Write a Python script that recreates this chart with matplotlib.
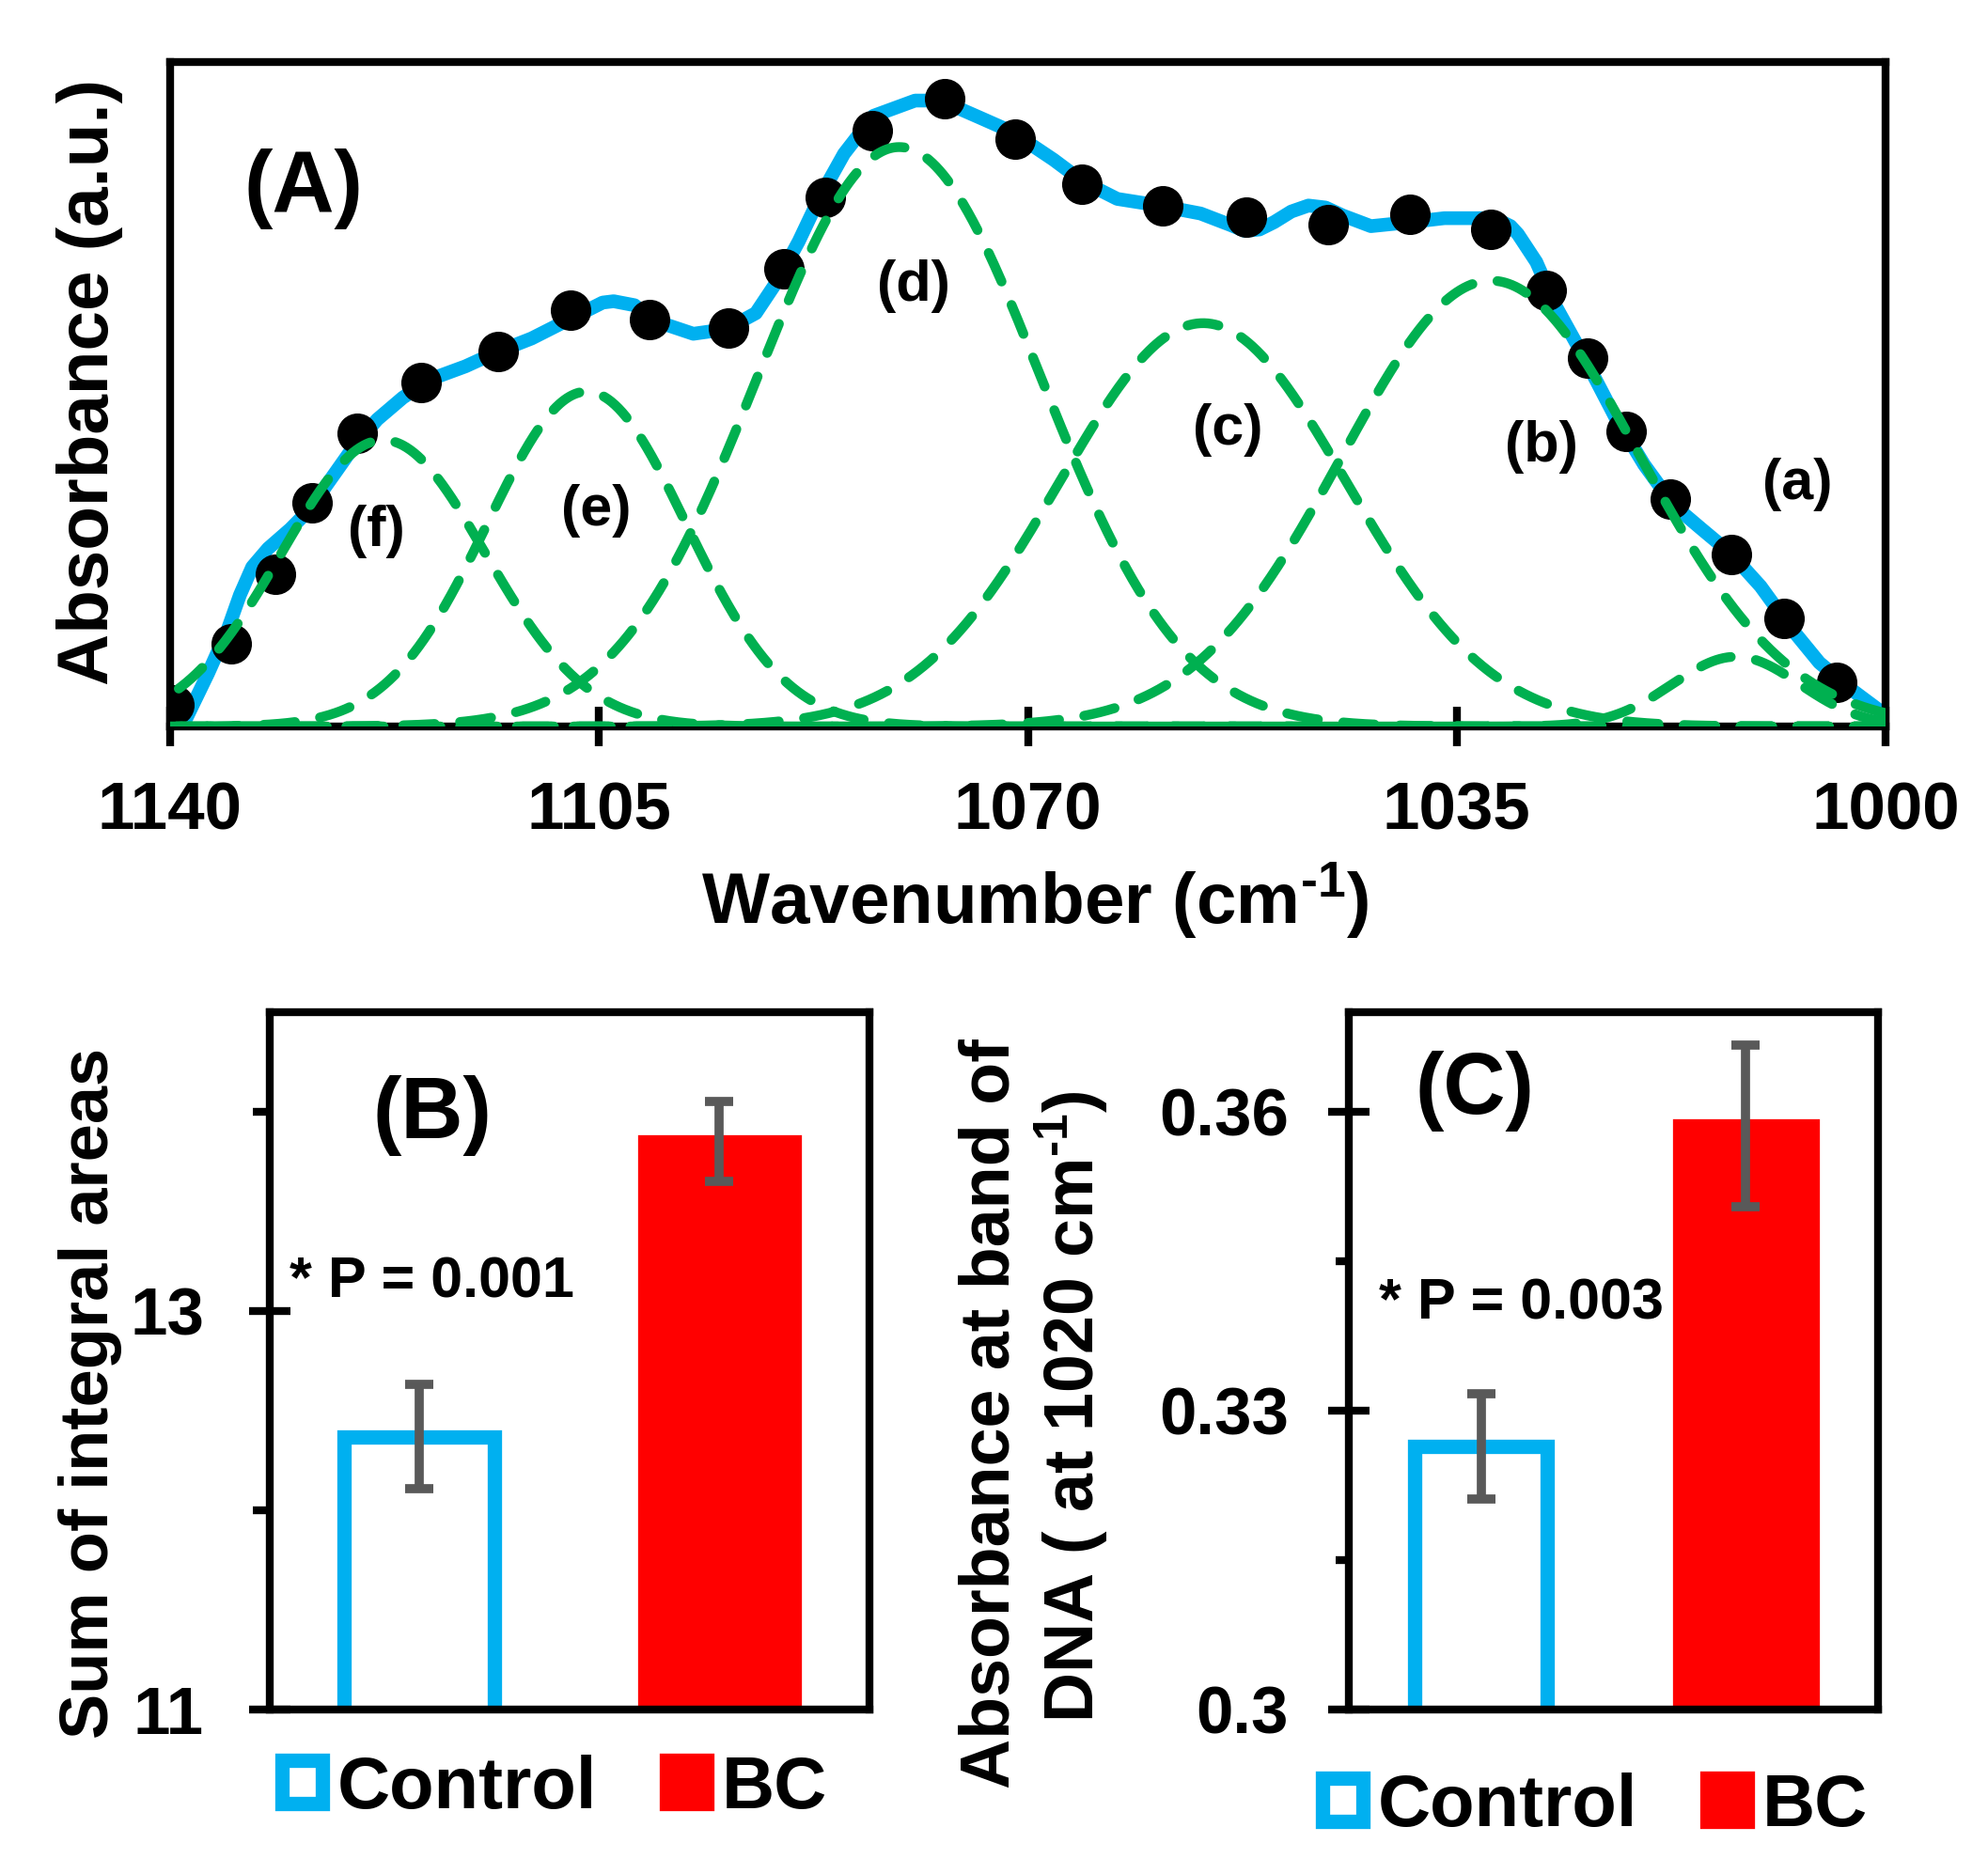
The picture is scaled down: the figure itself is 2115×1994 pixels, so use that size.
import numpy as np
import matplotlib
matplotlib.use("Agg")
import matplotlib.pyplot as plt
from matplotlib.ticker import FixedLocator

plt.rcParams['font.family'] = ['Liberation Sans', 'DejaVu Sans']
plt.rcParams['font.weight'] = 'bold'
plt.rcParams['mathtext.fontset'] = 'custom'
plt.rcParams['mathtext.rm'] = 'Liberation Sans:bold'
plt.rcParams['mathtext.it'] = 'Liberation Sans:bold'
plt.rcParams['mathtext.bf'] = 'Liberation Sans:bold'
plt.rcParams['mathtext.default'] = 'rm'

# ---------------- Panel A data ----------------
dot_wn = [1139.7, 1135.0, 1131.4, 1128.4, 1124.7, 1119.5, 1113.2, 1107.3, 1100.9, 1094.4,
          1089.9, 1086.5, 1082.7, 1076.8, 1071.0, 1065.6, 1059.0, 1052.2, 1045.5, 1038.8,
          1032.2, 1027.7, 1024.3, 1021.2, 1017.6, 1012.6, 1008.3, 1004.0]
dot_abs = [0.033, 0.125, 0.229, 0.336, 0.442, 0.518, 0.564, 0.626, 0.613, 0.600,
           0.689, 0.796, 0.897, 0.945, 0.884, 0.816, 0.784, 0.767, 0.755, 0.771,
           0.748, 0.657, 0.554, 0.444, 0.342, 0.259, 0.162, 0.067]

fit_wn = [1139.0, 1136.9, 1135.3, 1134.3, 1133.3, 1132.0, 1130.2, 1128.7, 1126.9, 1125.1,
          1123.1, 1121.0, 1118.7, 1115.9, 1113.4, 1110.5, 1107.5, 1104.7, 1103.8, 1102.1,
          1100.7, 1097.3, 1094.6, 1092.2, 1090.5, 1088.7, 1087.0, 1085.0, 1082.6, 1079.2,
          1077.1, 1074.0, 1071.3, 1067.9, 1065.5, 1062.7, 1059.6, 1055.9, 1053.5, 1052.3,
          1051.1, 1049.9, 1048.5, 1047.1, 1045.7, 1044.3, 1042.0, 1038.8, 1036.0, 1032.4,
          1031.6, 1030.6, 1030.0, 1028.5, 1026.9, 1024.5, 1022.1, 1019.7, 1017.3, 1015.0,
          1012.6, 1010.2, 1007.8, 1005.4, 1002.6, 1000.2]
fit_abs = [0.000, 0.080, 0.146, 0.198, 0.240, 0.268, 0.297, 0.325, 0.372, 0.419,
           0.462, 0.495, 0.523, 0.542, 0.563, 0.584, 0.612, 0.638, 0.640, 0.634,
           0.612, 0.591, 0.598, 0.622, 0.669, 0.730, 0.796, 0.862, 0.919, 0.942,
           0.942, 0.917, 0.895, 0.853, 0.820, 0.794, 0.785, 0.772, 0.755, 0.746,
           0.748, 0.759, 0.775, 0.784, 0.781, 0.769, 0.753, 0.759, 0.765, 0.765,
           0.762, 0.753, 0.741, 0.699, 0.632, 0.552, 0.467, 0.394, 0.333, 0.297,
           0.260, 0.211, 0.150, 0.096, 0.053, 0.020]

band_names = ['(a)', '(b)', '(c)', '(d)', '(e)', '(f)']
band_center = [1012.2, 1032.2, 1055.7, 1080.5, 1106.0, 1122.6]
band_height = [0.105, 0.671, 0.607, 0.872, 0.504, 0.431]
band_sigma = [5.2, 12.16, 11.7, 11.5, 8.1, 8.3]
band_label_wn = [1007.2, 1028.1, 1053.7, 1079.3, 1105.2, 1123.2]
band_label_abs = [0.364, 0.421, 0.446, 0.662, 0.325, 0.294]
wn_ticks = [1140, 1105, 1070, 1035, 1000]

# ---------------- Panel B / C data ----------------
groups = ['Control', 'BC']
area_mean = [12.37, 13.85]
area_err = [0.26, 0.20]
dna_mean = [0.3264, 0.3586]
dna_err = [0.0053, 0.0081]
p_area = '* P = 0.001'
p_dna = '* P = 0.003'

BLUE = '#00B0F0'
GREEN = '#00B050'
RED = '#FF0000'
GREY = '#595959'

W, H = 2115, 1994
fig = plt.figure(figsize=(W / 100, H / 100), dpi=100)


def px_axes(l, t, r, b):
    return fig.add_axes([l / W, 1 - b / H, (r - l) / W, (b - t) / H])


axA = px_axes(181, 66, 2006, 773)
axB = px_axes(286.5, 1077, 925, 1819)
axC = px_axes(1435, 1077, 1998, 1819)

for ax in (axA, axB, axC):
    for sp in ax.spines.values():
        sp.set_linewidth(6)
        sp.set_color('black')

# ---------------- Panel A ----------------
axA.plot(fit_wn, fit_abs, color=BLUE, lw=10.5, solid_capstyle='round',
         solid_joinstyle='round', zorder=2)
axA.plot(dot_wn, dot_abs, 'o', color='black', ms=30, zorder=3)
grid = np.linspace(1000, 1140, 1401)
for c, h, s in zip(band_center, band_height, band_sigma):
    axA.plot(grid, h * np.exp(-0.5 * ((grid - c) / s) ** 2), color=GREEN,
             lw=7.5, ls=(0, (3.2, 2.6)), dash_capstyle='round', zorder=4)
for name, x, y in zip(band_names, band_label_wn, band_label_abs):
    axA.text(x, y, name, ha='center', va='center', fontsize=44, zorder=5)
axA.text(1129.1, 0.809, '(A)', ha='center', va='center', fontsize=66)
axA.set_xlim(1140, 1000)
axA.set_ylim(0, 1)
axA.xaxis.set_major_locator(FixedLocator(wn_ticks))
axA.set_yticks([])
axA.tick_params(axis='x', direction='inout', length=30, width=6,
                labelsize=51, pad=27)
fig.text(115 / W, 1 - 406.6 / H, 'Absorbance (a.u.)', rotation=90,
         rotation_mode='anchor', ha='center', va='baseline', fontsize=55)
fig.text(1101 / W, 1 - 983.3 / H, r'Wavenumber (cm$^{\text{-1}}$)', ha='center',
         va='baseline', fontsize=55)


# ---------------- Bar panels ----------------
def bar_panel(ax, means, errs, ylim, major, minor, letter, letter_xy,
              ptext, p_xy, pad, leg_xy, minor_len):
    x = np.arange(len(groups))
    bars = ax.bar(x, means, width=0.5, color=['white', RED],
                  edgecolor=[BLUE, RED], linewidth=11, zorder=2)
    ax.errorbar(x, means, yerr=errs, fmt='none', ecolor=GREY, elinewidth=7,
                capsize=11, capthick=7, zorder=3)
    ax.set_xlim(-0.5, 1.5)
    ax.set_ylim(*ylim)
    ax.set_xticks([])
    ax.yaxis.set_major_locator(FixedLocator(major))
    ax.yaxis.set_minor_locator(FixedLocator(minor))
    ax.tick_params(axis='y', which='major', direction='inout', length=32,
                   width=6, labelsize=51, pad=pad)
    ax.tick_params(axis='y', which='minor', direction='out', length=minor_len,
                   width=6)
    ax.text(letter_xy[0], letter_xy[1], letter, ha='center', va='center',
            fontsize=66)
    ax.text(p_xy[0], p_xy[1], ptext, ha='left', va='center', fontsize=44,
            zorder=4)
    fig.legend(handles=list(bars.patches), labels=groups, loc='center',
               bbox_to_anchor=(leg_xy[0] / W, 1 - leg_xy[1] / H), ncol=2,
               frameon=False, fontsize=56, handlelength=0.55,
               handleheight=0.55, handletextpad=0.2, columnspacing=0.95,
               borderpad=0, borderaxespad=0)
    return bars


bar_panel(axB, area_mean, area_err, (11, 14.5), [11, 13], [12, 14], '(B)',
          (0.042, 13.98), p_area, (-0.434, 13.14), 34, (590, 1903), 13)
axB.set_yticklabels(['11', '13'])
bar_panel(axC, dna_mean, dna_err, (0.3, 0.37), [0.30, 0.33, 0.36],
          [0.315, 0.345], '(C)', (-0.024, 0.3621), p_dna, (-0.386, 0.3407),
          30, (1697, 1922), 10)
axC.set_yticklabels(['0.3', '0.33', '0.36'])

fig.text(114.6 / W, 1 - 1482 / H, 'Sum of integral areas', rotation=90,
         rotation_mode='anchor', ha='center', va='baseline', fontsize=52)
fig.text(1073.3 / W, 1 - 1504.5 / H, 'Absorbance at band of', rotation=90,
         rotation_mode='anchor', ha='center', va='baseline', fontsize=53)
fig.text(1163.3 / W, 1 - 1496.5 / H, r'DNA ( at 1020 cm$^{\text{-1}}$)', rotation=90,
         rotation_mode='anchor', ha='center', va='baseline', fontsize=53)

fig.savefig('out.png', dpi=100, facecolor='white')
